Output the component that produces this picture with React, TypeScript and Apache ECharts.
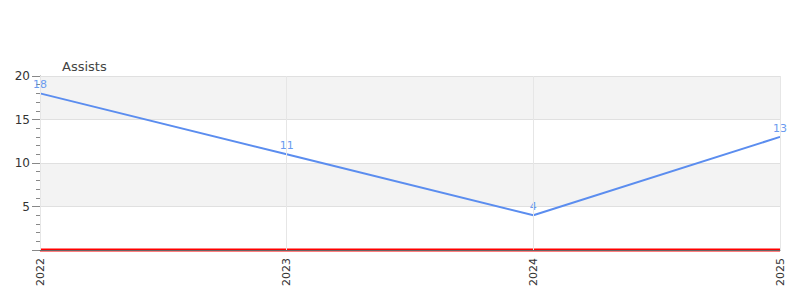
import React, { useEffect, useRef } from "react";
import * as echarts from "echarts";

const categories = ["2022", "2023", "2024", "2025"];
const assists = [18, 11, 4, 13];
const baseline = [0, 0, 0, 0];
const yTicks = [0, 5, 10, 15, 20];

export default function App() {
  const ref = useRef<HTMLDivElement>(null);
  useEffect(() => {
    if (!ref.current) return;
    const chart = echarts.init(ref.current, undefined, { renderer: "svg" });
    chart.setOption({
      animation: false,
      textStyle: { fontFamily: "DejaVu Sans" },
      title: {
        text: "Assists",
        left: 57,
        top: 55,
        textStyle: { fontSize: 13, fontWeight: "normal", color: "#444", fontFamily: "DejaVu Sans" },
      },
      grid: { left: 40, right: 20, top: 76, bottom: 50, containLabel: false },
      xAxis: {
        type: "category",
        data: categories,
        boundaryGap: false,
        z: 10,
        axisLine: { show: true, lineStyle: { color: "#666", width: 1 } },
        axisTick: { show: false },
        axisLabel: { rotate: 90, color: "#333", fontSize: 11, margin: 8 },
        splitLine: { show: true, lineStyle: { color: "#e6e6e6" } },
      },
      yAxis: {
        type: "value",
        min: yTicks[0],
        max: yTicks[yTicks.length - 1],
        interval: 5,
        axisLine: { show: true, lineStyle: { color: "#888" } },
        axisTick: { show: true, length: 8, lineStyle: { color: "#888" } },
        minorTick: { show: true, splitNumber: 5, length: 4, lineStyle: { color: "#888" } },
        axisLabel: { color: "#333", fontSize: 12, showMinLabel: false, margin: 10 },
        splitLine: { show: true, lineStyle: { color: "#e0e0e0" } },
        splitArea: { show: true, areaStyle: { color: ["#ffffff", "#f3f3f3"] } },
      },
      series: [
        {
          name: "Baseline",
          type: "line",
          data: baseline,
          symbol: "circle",
          symbolSize: 0,
          clip: false,
          lineStyle: { color: "#ff0000", width: 3 },
          itemStyle: { color: "#ff0000" },
          z: 1,
        },
        {
          name: "Assists",
          type: "line",
          data: assists,
          symbol: "circle",
          symbolSize: 0,
          showSymbol: true,
          lineStyle: { color: "#5b8def", width: 2 },
          itemStyle: { color: "#5b8def" },
          label: { show: true, position: "top", color: "#6b9bef", fontSize: 11, distance: 3 },
          z: 3,
        },
      ],
    });
    return () => chart.dispose();
  }, []);
  return <div ref={ref} style={{ width: 800, height: 300, position: "absolute", left: 0, top: 0 }} />;
}
